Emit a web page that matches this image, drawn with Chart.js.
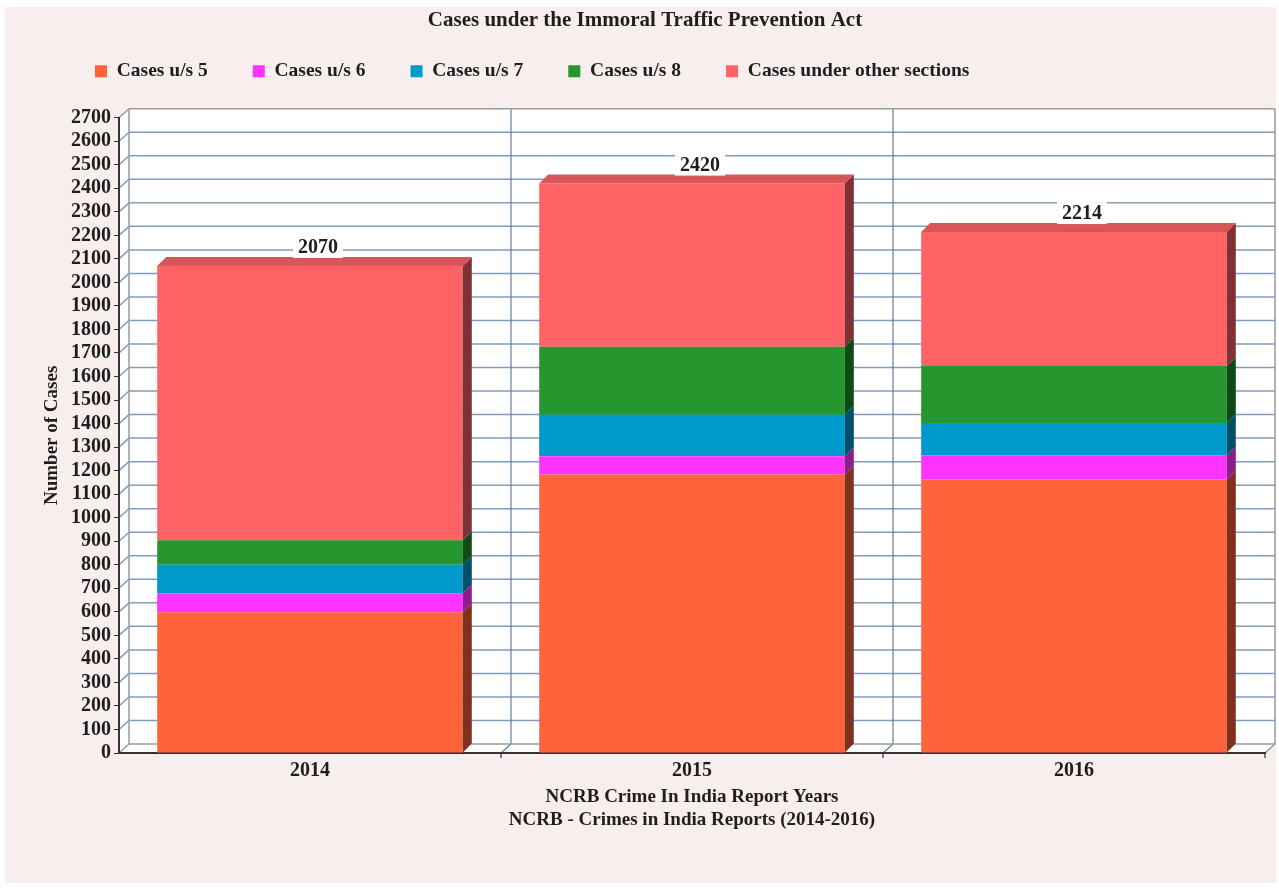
<!DOCTYPE html>
<html>
<head>
<meta charset="utf-8">
<title>Cases under the Immoral Traffic Prevention Act</title>
<script src="https://cdn.jsdelivr.net/npm/chart.js@4.4.0/dist/chart.umd.min.js"></script>
<style>
    html, body { margin: 0; padding: 0; background: #ffffff; }
    canvas { display: block; }
</style>
</head>
<body>
<canvas id="itpaChart" width="1279" height="888"></canvas>
<script>
// Data
const years = ['2014', '2015', '2016'];
const casesUs5 = [598, 1184, 1162];
const casesUs6 = [81, 77, 103];
const casesUs7 = [121, 177, 137];
const casesUs8 = [104, 289, 243];
const casesOther = [1166, 693, 569];
const totalCases = [2070, 2420, 2214];
const seriesLabels = ['Cases u/s 5', 'Cases u/s 6', 'Cases u/s 7', 'Cases u/s 8', 'Cases under other sections'];
const yMax = 2700;
const yStep = 100;

// Styles
const faceColors = ['#ff633b', '#ff33ff', '#0099cc', '#26962f', '#ff6366'];
const sideColors = ['#80301f', '#8c1e8c', '#005069', '#0f4b14', '#7f3236'];
const topFaceColor = '#d8555a';
const FONT = "'Liberation Serif', 'Times New Roman', serif";
const TEXT = '#1e1e1e';
const WALL_DX = 10, WALL_DY = -9;
const BAR_DX = 9, BAR_DY = -9;

function line(ctx, x1, y1, x2, y2) {
    ctx.beginPath();
    ctx.moveTo(x1, y1);
    ctx.lineTo(x2, y2);
    ctx.stroke();
}

function poly(ctx, pts) {
    ctx.beginPath();
    ctx.moveTo(pts[0], pts[1]);
    for (let i = 2; i < pts.length; i += 2) ctx.lineTo(pts[i], pts[i + 1]);
    ctx.closePath();
    ctx.fill();
}

// Page background and the 3D back wall with its grid
const backdrop = {
    id: 'backdrop',
    beforeDraw(chart) {
        const { ctx, chartArea: a, scales: { x, y } } = chart;
        const L = a.left, R = a.right, T = a.top, B = a.bottom;
        ctx.save();
        ctx.fillStyle = '#ffffff';
        ctx.fillRect(0, 0, chart.width, chart.height);
        ctx.fillStyle = '#f9eeee';
        ctx.fillRect(5, 7, 1271, 876);

        ctx.fillStyle = '#ffffff';
        poly(ctx, [L, B, L, T, L + WALL_DX, T + WALL_DY, R + WALL_DX, T + WALL_DY, R + WALL_DX, B + WALL_DY, R, B]);

        // horizontal grid lines on the back wall
        ctx.strokeStyle = '#7f9cbf';
        ctx.lineWidth = 1.5;
        y.ticks.forEach(t => {
            if (t.value === 0 || t.value === yMax) return;
            const py = y.getPixelForValue(t.value);
            line(ctx, L, py, L + WALL_DX, py + WALL_DY);
            line(ctx, L + WALL_DX, py + WALL_DY, R + WALL_DX, py + WALL_DY);
        });

        // category dividers
        for (let k = 1; k < years.length; k++) {
            const xb = (x.getPixelForValue(k - 1) + x.getPixelForValue(k)) / 2;
            ctx.strokeStyle = '#5f7f9f';
            ctx.lineWidth = 1.2;
            line(ctx, xb + WALL_DX, T + WALL_DY, xb + WALL_DX, B + WALL_DY);
            line(ctx, xb, B, xb + WALL_DX, B + WALL_DY);
            ctx.strokeStyle = '#333333';
            line(ctx, xb, B, xb, B + 5);
        }
        ctx.strokeStyle = '#333333';
        line(ctx, R, B, R, B + 5);

        // wall edges
        ctx.strokeStyle = '#9a9a9a';
        ctx.lineWidth = 1.5;
        line(ctx, L, T, L + WALL_DX, T + WALL_DY);
        line(ctx, L + WALL_DX, T + WALL_DY, R + WALL_DX, T + WALL_DY);
        line(ctx, R + WALL_DX, T + WALL_DY, R + WALL_DX, B + WALL_DY);
        line(ctx, L + WALL_DX, T + WALL_DY, L + WALL_DX, B + WALL_DY);
        line(ctx, L + WALL_DX, B + WALL_DY, R + WALL_DX, B + WALL_DY);
        line(ctx, L, B, L + WALL_DX, B + WALL_DY);
        line(ctx, R, B, R + WALL_DX, B + WALL_DY);
        ctx.restore();
    }
};

// Side and top faces of the stacked bars, plus total labels
const bars3d = {
    id: 'bars3d',
    afterDatasetsDraw(chart) {
        const { ctx } = chart;
        const last = chart.data.datasets.length - 1;
        ctx.save();
        chart.data.datasets.forEach((ds, di) => {
            chart.getDatasetMeta(di).data.forEach(bar => {
                const { x, y, base, width } = bar.getProps(['x', 'y', 'base', 'width'], true);
                const l = x - width / 2, r = x + width / 2;
                ctx.fillStyle = sideColors[di];
                poly(ctx, [r, y, r + BAR_DX, y + BAR_DY, r + BAR_DX, base + BAR_DY, r, base]);
                if (di === last) {
                    ctx.fillStyle = topFaceColor;
                    poly(ctx, [l, y, l + BAR_DX, y + BAR_DY, r + BAR_DX, y + BAR_DY, r, y]);
                }
            });
        });

        const topMeta = chart.getDatasetMeta(last);
        ctx.font = 'bold 20px ' + FONT;
        ctx.textAlign = 'center';
        ctx.textBaseline = 'middle';
        topMeta.data.forEach((bar, i) => {
            const cx = bar.x + 8;
            const cy = bar.y - 19;
            const txt = String(totalCases[i]);
            const w = ctx.measureText(txt).width + 10;
            ctx.fillStyle = '#ffffff';
            ctx.fillRect(cx - w / 2, cy - 11, w, 22);
            ctx.fillStyle = TEXT;
            ctx.fillText(txt, cx, cy + 1);
        });
        ctx.restore();
    }
};

// Nudge title and legend to where the reference has them
const placeBlocks = {
    id: 'placeBlocks',
    afterLayout(chart) {
        const lg = chart.legend;
        const h = lg.bottom - lg.top;
        lg.left = 50;
        lg.top = 16.5;
        lg.bottom = lg.top + h;
        const tb = chart.titleBlock;
        tb.left = 25;
    }
};

const seriesData = [casesUs5, casesUs6, casesUs7, casesUs8, casesOther];

const ctx = document.getElementById('itpaChart').getContext('2d');
new Chart(ctx, {
    type: 'bar',
    data: {
        labels: years,
        datasets: seriesData.map((vals, i) => ({
            label: seriesLabels[i],
            data: vals,
            backgroundColor: faceColors[i],
            borderWidth: 0,
            categoryPercentage: 0.8,
            barPercentage: 1.0
        }))
    },
    options: {
        responsive: false,
        animation: false,
        events: [],
        layout: { padding: { left: 0, right: 14, top: 0, bottom: 0 } },
        plugins: {
            title: {
                display: true,
                text: 'Cases under the Immoral Traffic Prevention Act',
                color: TEXT,
                font: { family: FONT, size: 21, weight: 'bold', lineHeight: 1.2 },
                padding: { top: 8, bottom: 0 }
            },
            legend: {
                display: true,
                position: 'top',
                align: 'start',
                labels: {
                    boxWidth: 12,
                    boxHeight: 12,
                    padding: 45,
                    color: TEXT,
                    font: { family: FONT, size: 19.5, weight: 'bold' }
                }
            },
            tooltip: { enabled: false }
        },
        scales: {
            x: {
                stacked: true,
                grid: { display: false, drawTicks: false, tickLength: 0 },
                border: { display: true, color: '#333333', width: 2 },
                ticks: {
                    color: TEXT,
                    padding: 6,
                    font: { family: FONT, size: 20, weight: 'bold', lineHeight: 1.2 }
                },
                title: {
                    display: true,
                    text: ['NCRB Crime In India Report Years', 'NCRB - Crimes in India Reports (2014-2016)'],
                    color: TEXT,
                    font: { family: FONT, size: 19, weight: 'bold', lineHeight: 1.2 },
                    padding: { top: 0, bottom: 57 }
                },
                afterFit: s => { s.height = 135; }
            },
            xTop: {
                type: 'category',
                position: 'top',
                display: true,
                grid: { display: false },
                border: { display: false },
                ticks: { display: false },
                afterFit: s => { s.height = 10; }
            },
            y: {
                stacked: true,
                min: 0,
                max: yMax,
                grid: {
                    drawOnChartArea: false,
                    drawTicks: true,
                    tickLength: 5,
                    color: '#333333'
                },
                border: { display: true, color: '#333333', width: 2 },
                ticks: {
                    stepSize: yStep,
                    autoSkip: false,
                    padding: 3,
                    color: TEXT,
                    font: { family: FONT, size: 20, weight: 'bold', lineHeight: 1.0 },
                    callback: value => String(value)
                },
                title: {
                    display: true,
                    text: 'Number of Cases',
                    color: TEXT,
                    font: { family: FONT, size: 19, weight: 'bold', lineHeight: 1.2 },
                    padding: { top: 41, bottom: 0 }
                },
                afterFit: s => { s.width = 119; }
            }
        }
    },
    plugins: [backdrop, bars3d, placeBlocks]
});
</script>
</body>
</html>
